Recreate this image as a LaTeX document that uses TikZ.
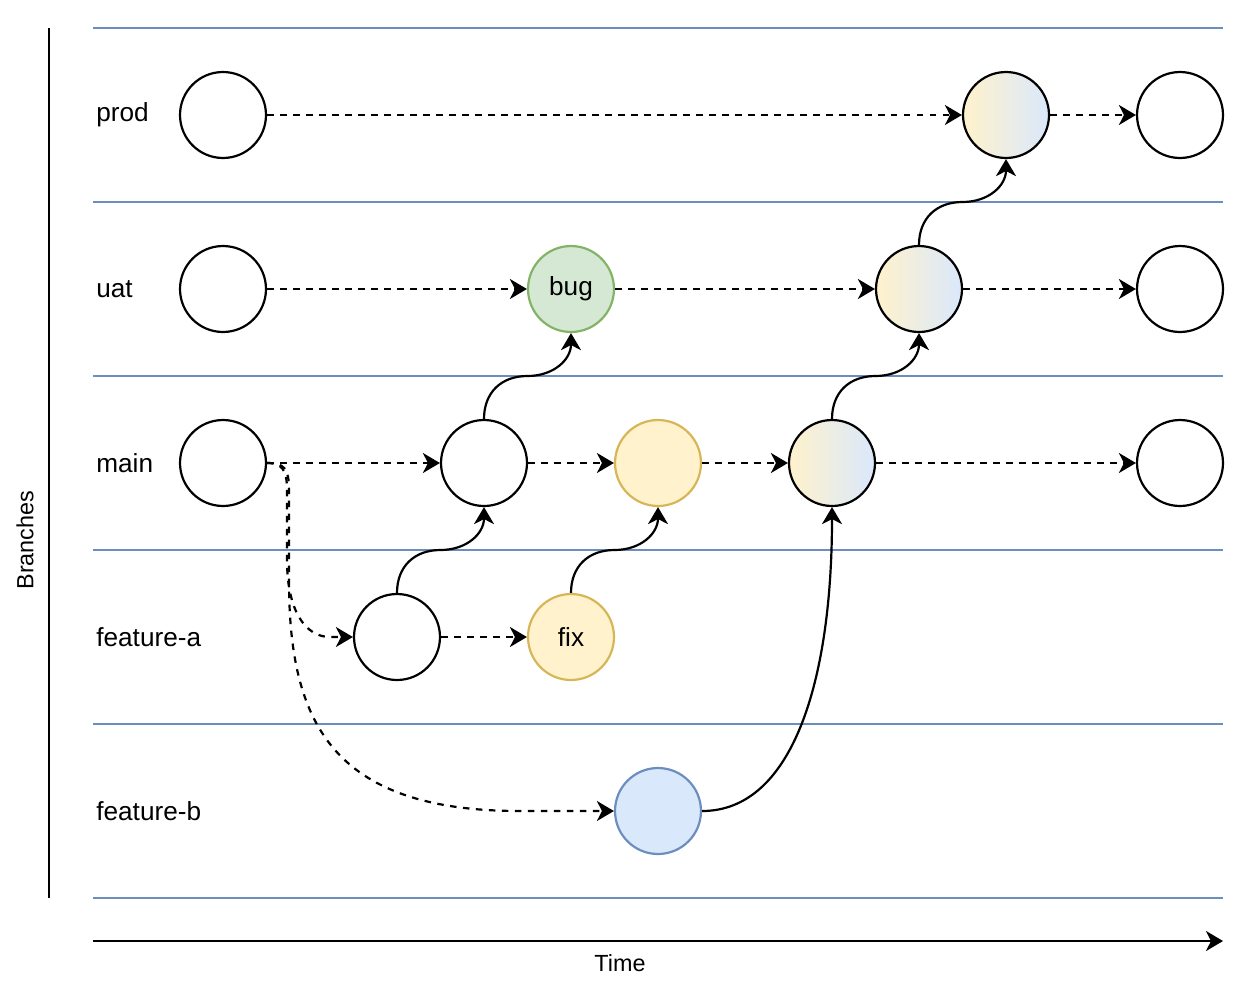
\documentclass[tikz,border=0pt]{standalone}
\usepackage{fontspec}
\setmainfont{Liberation Sans}
\usetikzlibrary{arrows.meta,calc}

\definecolor{laneblue}{HTML}{6C8EBF}
\definecolor{greenfill}{HTML}{D5E8D4}
\definecolor{greenline}{HTML}{82B366}
\definecolor{yellowfill}{HTML}{FFF2CC}
\definecolor{yellowline}{HTML}{D6B656}
\definecolor{bluefill}{HTML}{DAE8FC}

\begin{document}
\begin{tikzpicture}[x=0.02cm,y=-0.02cm,
	every node/.style={font=\fontsize{14.9}{17}\selectfont},
	commit/.style={circle,draw=black,line width=1.25pt,minimum size=1.72cm,inner sep=0pt,fill=white},
	bugcommit/.style={commit,draw=greenline,fill=greenfill},
	fixcommit/.style={commit,draw=yellowline,fill=yellowfill},
	featcommit/.style={commit,draw=laneblue,fill=bluefill},
	mergecommit/.style={commit,left color=yellowfill,right color=bluefill},
	flow/.style={-{Stealth[length=0.34cm,width=0.4cm,inset=0.1cm]},line width=1.25pt},
	carry/.style={flow,dash pattern=on 0.13cm off 0.13cm},
	lift/.style={flow,looseness=1.1},
	lane/.style={draw=laneblue,line width=1.2pt},
	branchlabel/.style={anchor=west,inner sep=0pt},
	axislabel/.style={font=\fontsize{13.3}{16}\selectfont}
	]
	
	\useasboundingbox (0,0) rectangle (1240,994);
	
	%--- Lanes ---
	\foreach \y in {28,202,376,550,724,898} {
		\draw[lane] (93,\y) -- (1223,\y);
	}
	
	%--- Axes ---
	\coordinate (btop) at (49,28);
	\coordinate (bbot) at (49,898);
	\draw[line width=1.25pt] (btop) -- (bbot);
	\node[axislabel,rotate=90] (branchtitle) at (25,540) {Branches};
	
	\coordinate (tstart) at (93,941);
	\coordinate (tend) at (1223,941);
	\draw[flow] (tstart) -- (tend);
	\node[axislabel] (timetitle) at (620,963) {Time};
	
	%--- Branch names ---
	\foreach \name/\y in {prod/115,uat/289,main/463,feature-a/637,feature-b/811} {
		\node[branchlabel] (lbl-\name) at (96,\y) {\name};
	}
	
	%--- Commits ---
	\node[commit] (p1) at (223,115) {};
	\node[mergecommit] (p2) at (1006,115) {};
	\node[commit] (p3) at (1180,115) {};
	
	\node[commit] (u1) at (223,289) {};
	\node[bugcommit] (u2) at (571,289) {bug};
	\node[mergecommit] (u3) at (919,289) {};
	\node[commit] (u4) at (1180,289) {};
	
	\node[commit] (m1) at (223,463) {};
	\node[commit] (m2) at (484,463) {};
	\node[fixcommit] (m3) at (658,463) {};
	\node[mergecommit] (m4) at (832,463) {};
	\node[commit] (m5) at (1180,463) {};
	
	\node[commit] (a1) at (397,637) {};
	\node[fixcommit] (a2) at (571,637) {fix};
	
	\node[featcommit] (b1) at (658,811) {};
	
	%--- History along a branch ---
	\foreach \s/\t in {p1/p2,p2/p3,u1/u2,u2/u3,u3/u4,m1/m2,m2/m3,m3/m4,m4/m5,a1/a2} {
		\draw[carry] (\s) -- (\t);
	}
	
	%--- Branching off main ---
	\draw[carry] (m1.east) .. controls (282,463) and (287,470) .. (287,490)
		-- (287,560) .. controls (287,610) and (305,637) .. (330,637) -- (a1.west);
	\draw[carry] (m1.east) .. controls (284,463) and (289,468) .. (289,490)
		-- (289,580) .. controls (289,720) and (330,811) .. (520,811) -- (b1.west);
	
	%--- Merges ---
	\foreach \s/\t in {a1/m2,a2/m3,m2/u2,m4/u3,u3/p2} {
		\draw[lift] (\s.north) to[out=90,in=180] ($(\s.north)!0.5!(\t.south)$)
			to[out=0,in=-90] (\t.south);
	}
	\draw[flow] (b1.east) .. controls +(90,0) and +(0,175) .. (m4.south);
	
\end{tikzpicture}
\end{document}
